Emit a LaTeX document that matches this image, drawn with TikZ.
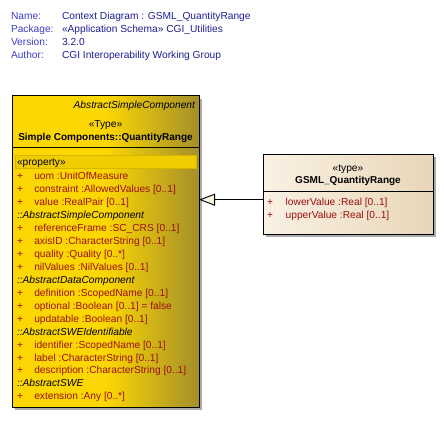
\documentclass[tikz,border=0pt]{standalone}
\usepackage{fontspec}
\setmainfont{Liberation Sans}
\usetikzlibrary{arrows.meta,shadows}
\definecolor{hdrlab}{RGB}{60,60,200}
\definecolor{hdrval}{RGB}{30,30,150}
\definecolor{ugold}{RGB}{252,215,3}
\definecolor{uolive}{RGB}{164,143,42}
\definecolor{bandfill}{RGB}{240,205,0}
\definecolor{bandline}{RGB}{215,182,0}
\definecolor{beigeA}{RGB}{250,241,228}
\definecolor{beigeB}{RGB}{232,214,184}
\definecolor{attrred}{RGB}{155,15,15}
\definecolor{shadowgray}{RGB}{170,170,170}
\newcommand{\fsz}{\fontsize{10.2}{12}\selectfont}
\newcommand{\fszb}{\fontsize{10}{12}\selectfont\bfseries}
\tikzset{
  every node/.style={inner sep=0pt, outer sep=0pt, font=\fsz},
  hdrlabel/.style={anchor=base west, text=hdrlab},
  hdrvalue/.style={anchor=base west, text=hdrval},
  goldbox/.style={draw=black, line width=0.9pt, rectangle,
    left color=ugold, right color=uolive, middle color=ugold,
    general shadow={fill=shadowgray, shadow xshift=3pt, shadow yshift=-3pt}},
  beigebox/.style={draw=black, line width=0.9pt, rectangle,
    left color=beigeA, right color=beigeB,
    general shadow={fill=shadowgray, shadow xshift=3pt, shadow yshift=-3pt}},
  attrplus/.style={anchor=base, text=attrred},
  attrtext/.style={anchor=base west, text=attrred},
  secthead/.style={anchor=base west, font=\fsz\itshape},
  stereo/.style={anchor=base},
  classtitle/.style={anchor=base, font=\fszb},
  divider/.style={line width=0.9pt},
  gen/.style={line width=0.9pt, -{Triangle[length=16pt,width=12pt,fill=beigeA]}}
}
\begin{document}
\begin{tikzpicture}[x=1pt,y=-1pt]
\useasboundingbox (0,0) rectangle (444,437);
% header
\node[hdrlabel] (hn) at (11,19.5) {Name:};
\node[hdrlabel] (hp) at (11,32.5) {Package:};
\node[hdrlabel] (hv) at (11,45.5) {Version:};
\node[hdrlabel] (ha) at (11,58.5) {Author:};
\node[hdrvalue] (vn) at (62,19.5) {Context Diagram : GSML\_QuantityRange};
\node[hdrvalue] (vp) at (62,32.5) {«Application Schema» CGI\_Utilities};
\node[hdrvalue] (vv) at (62,45.5) {3.2.0};
\node[hdrvalue] (va) at (62,58.5) {CGI Interoperability Working Group};

% left class box
\node[goldbox, minimum width=187pt, minimum height=311.5pt] (qr) at (105.5,251.25) {};
\draw[divider] (qr.west |- 0,147.7) -- (qr.east |- 0,147.7);
\node[anchor=base east, font=\fsz\itshape] (qrabs) at (195,108.4) {AbstractSimpleComponent};
\node[stereo] (qrst) at (105.5,127.7) {«Type»};
\node[classtitle] (qrt) at (105.5,140.4) {Simple Components::QuantityRange};
\node[draw=bandline, fill=bandfill, line width=0.5pt, minimum width=181pt, minimum height=13.3pt, anchor=north west] (band) at (15,155) {};
\node[anchor=base west] (prop) at (17,165.4) {«property»};

\foreach \i/\n/\kind in {
  0/{uom :UnitOfMeasure}/a,
  1/{constraint :AllowedValues [0..1]}/a,
  2/{value :RealPair [0..1]}/a,
  3/{::AbstractSimpleComponent}/s,
  4/{referenceFrame :SC\_CRS [0..1]}/a,
  5/{axisID :CharacterString [0..1]}/a,
  6/{quality :Quality [0..*]}/a,
  7/{nilValues :NilValues [0..1]}/a,
  8/{::AbstractDataComponent}/s,
  9/{definition :ScopedName [0..1]}/a,
  10/{optional :Boolean [0..1] = false}/a,
  11/{updatable :Boolean [0..1]}/a,
  12/{::AbstractSWEIdentifiable}/s,
  13/{identifier :ScopedName [0..1]}/a,
  14/{label :CharacterString [0..1]}/a,
  15/{description :CharacterString [0..1]}/a,
  16/{::AbstractSWE}/s,
  17/{extension :Any [0..*]}/a} {
  \pgfmathsetmacro{\yb}{179.7+12.95*\i}
  \if a\kind
    \node[attrplus] (lp\i) at (20,\yb) {+};
    \node[attrtext] (la\i) at (34.3,\yb) {\n};
  \else
    \node[secthead] (ls\i) at (17,\yb) {\n};
  \fi
}

% right class box
\node[beigebox, minimum width=170pt, minimum height=79.7pt] (gsml) at (348,194.15) {};
\draw[divider] (gsml.west |- 0,191.7) -- (gsml.east |- 0,191.7);
\node[stereo] (gst) at (348,171) {«type»};
\node[classtitle] (gt) at (348,183.7) {GSML\_QuantityRange};
\node[attrplus] (gp1) at (270,205.7) {+};
\node[attrtext] (ga1) at (285.7,205.7) {lowerValue :Real [0..1]};
\node[attrplus] (gp2) at (270,218.4) {+};
\node[attrtext] (ga2) at (285.7,218.4) {upperValue :Real [0..1]};

% generalization
\coordinate (ay) at (0,199.7);
\draw[gen] (gsml.west |- ay) -- (qr.east |- ay);
\end{tikzpicture}
\end{document}
